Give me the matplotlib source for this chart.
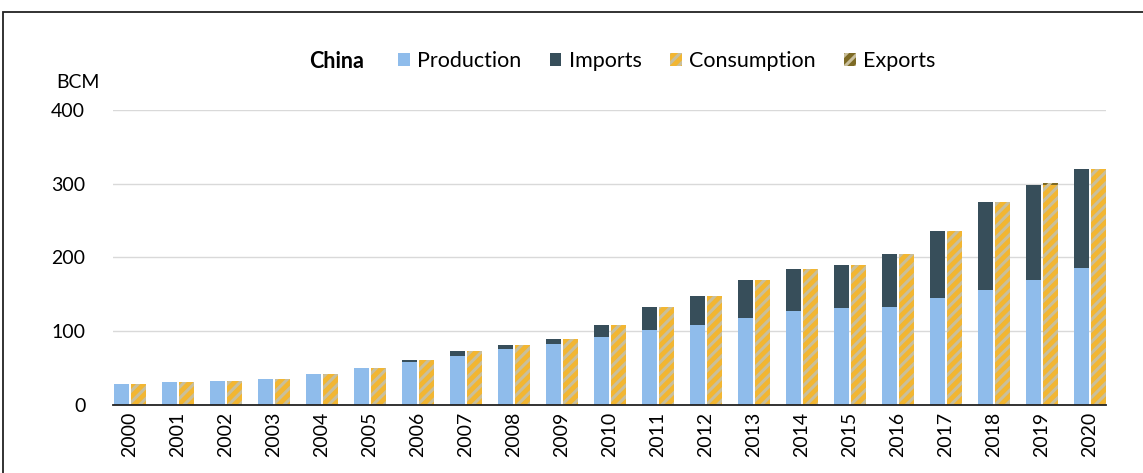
import numpy as np
import matplotlib
matplotlib.use("Agg")
import matplotlib.pyplot as plt
from matplotlib.patches import Rectangle, Patch

# values in BCM
years = [str(y) for y in range(2000, 2021)]
production = [27.5, 31, 32.5, 34.5, 41, 49.5, 58, 66.5, 75.5, 82, 92, 101.5,
              108.5, 117, 127.5, 131, 132.5, 144, 155, 169.5, 185]
imports = [0, 0, 0, 0, 0, 0, 2, 6, 5, 7.5, 16, 30.5,
           39.5, 52, 56.5, 58, 72, 91, 119.5, 129, 135.5]
consumption = [27.5, 31, 32.5, 34.5, 41, 49.5, 60, 72.5, 80.5, 89.5, 108, 132,
               148, 169, 184, 189, 204.5, 235, 274.5, 298.5, 320.5]
exports = [0] * 19 + [2, 0]

C_PROD = "#8fbceb"
C_IMP = "#374e5a"
C_CONS = "#f2b632"
C_EXP = "#7d6a24"

plt.rcParams["font.family"] = ["Lato", "DejaVu Sans"]
plt.rcParams["hatch.color"] = "#c9bf9c"
plt.rcParams["hatch.linewidth"] = 2.2

fig = plt.figure(figsize=(11.43, 4.73), dpi=100)
ax = fig.add_axes([0.0989, 0.1448, 0.8687, 0.6226])

x = np.arange(len(years))
w = 0.31
off = 0.17
prod = np.array(production)
ax.bar(x - off, prod, w, color=C_PROD, linewidth=0)
ax.bar(x - off, imports, w, bottom=prod, color=C_IMP, linewidth=0)
cons = np.array(consumption)
ax.bar(x + off, cons, w, color=C_CONS, linewidth=0, hatch="///")
ax.bar(x + off, exports, w, bottom=cons, color=C_EXP, linewidth=0, hatch="///")

ax.set_xlim(-0.354, 20.333)
ax.set_ylim(0, 400)
ax.set_yticks([0, 100, 200, 300, 400])
ax.yaxis.grid(True, color="#d9d9d9", lw=1)
ax.set_axisbelow(True)
ax.set_xticks(x)
ax.set_xticklabels(years, rotation=90)
ax.tick_params(axis="both", length=0, labelsize=14, colors="#000000")
ax.tick_params(axis="x", pad=5)
ax.tick_params(axis="y", pad=20)
for s in ["left", "right", "top"]:
    ax.spines[s].set_visible(False)
ax.spines["bottom"].set_color("#222222")
ax.spines["bottom"].set_linewidth(1.3)

fig.text(56 / 1143, 1 - 83 / 473, "BCM", fontsize=14, va="center", ha="left")
fig.text(309 / 1143, 1 - 61 / 473, "China", fontsize=15.5, fontweight="bold",
         va="center", ha="left")

handles = [Patch(facecolor=C_PROD, lw=0), Patch(facecolor=C_IMP, lw=0),
           Patch(facecolor=C_CONS, lw=0, hatch="///"),
           Patch(facecolor=C_EXP, lw=0, hatch="///")]
labels = ["Production", "Imports", "Consumption", "Exports"]
fig.legend(handles, labels, loc="center left",
           bbox_to_anchor=(398 / 1143, 1 - 61 / 473), ncol=4, frameon=False,
           fontsize=15.5, handlelength=0.55, handleheight=0.55,
           handletextpad=0.35, columnspacing=1.3, borderpad=0,
           borderaxespad=0)

# outer frame (cut off at right and bottom in the reference)
fig.patches.append(Rectangle((3 / 1143, -0.05), 1.1, 1 - 12 / 473 + 0.05,
                             transform=fig.transFigure, fill=False,
                             edgecolor="#222222", lw=1.3))

fig.savefig("out.png", dpi=100)
